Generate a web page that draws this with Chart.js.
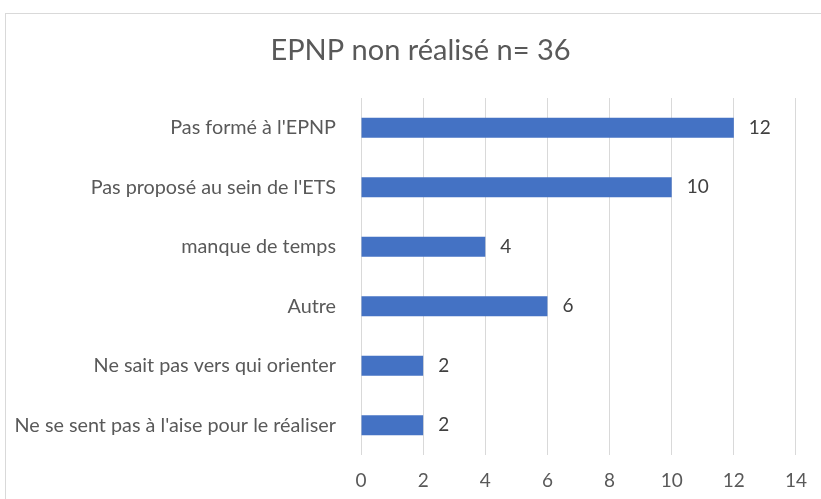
<!DOCTYPE html>
<html>
<head>
<meta charset="utf-8">
<script src="https://cdn.jsdelivr.net/npm/chart.js@4.4.0/dist/chart.umd.min.js"></script>
<style>
  html, body { margin: 0; padding: 0; background: #fff; overflow: hidden; }
  #frame { position: absolute; left: 5px; top: 13px; width: 840px; height: 520px; border: 1px solid #d9d9d9; }
  #chart { position: absolute; left: 0; top: 0; }
</style>
</head>
<body>
<div id="frame"></div>
<canvas id="chart" width="821" height="499"></canvas>
<script>
const reasons = [
  'Pas formé à l\'EPNP',
  'Pas proposé au sein de l\'ETS',
  'manque de temps',
  'Autre',
  'Ne sait pas vers qui orienter',
  'Ne se sent pas à l\'aise pour le réaliser'
];
const counts = [12, 10, 4, 6, 2, 2];
const chartTitle = 'EPNP non réalisé n= 36';

// value labels at the end of each bar
const barValues = {
  id: 'barValues',
  afterDatasetsDraw(chart) {
    const ctx = chart.ctx;
    const meta = chart.getDatasetMeta(0);
    ctx.save();
    ctx.font = '19px Lato';
    ctx.fillStyle = '#404040';
    ctx.textBaseline = 'middle';
    meta.data.forEach((bar, i) => {
      ctx.fillText(counts[i], bar.x + 15, bar.y);
    });
    ctx.restore();
  }
};

// title centred on the frame, not on the canvas
const frameTitle = {
  id: 'frameTitle',
  afterDraw(chart) {
    const ctx = chart.ctx;
    ctx.save();
    ctx.font = '29px Lato';
    ctx.fillStyle = '#595959';
    ctx.textAlign = 'center';
    ctx.textBaseline = 'middle';
    ctx.fillText(chartTitle, chart.width / 2 + 10, 51);
    ctx.restore();
  }
};

const ctx = document.getElementById('chart').getContext('2d');
const chart = new Chart(ctx, {
  type: 'bar',
  data: {
    labels: reasons,
    datasets: [{
      data: counts,
      backgroundColor: '#4472c4',
      barPercentage: 0.68,
      categoryPercentage: 0.5
    }]
  },
  options: {
    indexAxis: 'y',
    responsive: false,
    animation: false,
    layout: { padding: { left: 15, right: 22, top: 98, bottom: 0 } },
    plugins: {
      legend: { display: false },
      tooltip: { enabled: false },
      title: { display: false }
    },
    scales: {
      x: {
        min: 0,
        max: 14,
        ticks: { stepSize: 2, color: '#595959', font: { family: 'Lato', size: 19 }, padding: 14 },
        grid: { color: '#d9d9d9', drawTicks: false },
        border: { display: false },
        afterFit(scale) { scale.height = 44; }
      },
      y: {
        ticks: { color: '#595959', font: { family: 'Lato', size: 19.8 }, padding: 25 },
        grid: { display: false, drawTicks: false },
        border: { display: false },
        afterFit(scale) { scale.width = 346; }
      }
    }
  },
  plugins: [barValues, frameTitle]
});
</script>
</body>
</html>
